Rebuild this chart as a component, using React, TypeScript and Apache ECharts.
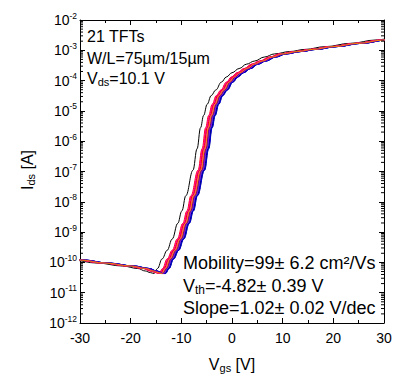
import React, { useEffect, useRef } from "react";
import * as echarts from "echarts";

// Gate voltage (V) of the reference transfer curve (bundle centre)
const V_GS = [-32, -30, -25, -20, -17, -15.5, -14.5, -13.8, -13.1, -12.2, -11.2, -10.2, -9.1, -8.3, -7.5, -6.1, -5.3, -4.6, -4.0, -3.3, -2.5, -1.6, -0.5, 0.5, 1.6, 3, 4.5, 6, 8, 10, 13, 16, 20, 25, 30, 32];
// Drain current (A) of that curve
const I_DS = [1.35e-10, 1.2e-10, 9.5e-11, 7.6e-11, 6.3e-11, 5.2e-11, 4.6e-11, 4.3e-11, 6.3e-11, 1.3e-10, 2.5e-10, 5.9e-10, 1.95e-9, 5e-9, 1.6e-8, 1.1e-7, 5.6e-7, 2.8e-6, 7.1e-6, 1.66e-5, 3.2e-5, 4.9e-5, 8.9e-5, 1.32e-4, 1.82e-4, 2.5e-4, 3.5e-4, 4.4e-4, 6e-4, 7.6e-4, 9.1e-4, 1.07e-3, 1.32e-3, 1.7e-3, 2.19e-3, 2.4e-3];
// Threshold shift (V) of each of the 21 TFTs relative to the curve above
const VTH_SHIFT = [-1.6, -0.6, 0.6, -0.4, 0.1, 0.7, 0.3, 0.2, -0.2, 0.4, 0.5, 0.0, -0.5, -0.3, 0.65, -0.1, 0.25, 0.55, 0.35, 0.15, -0.05];
const COLORS = ["#000000", "#FF0000", "#0000FF", "#FF00FF", "#808000", "#000080", "#8000FF", "#800080", "#800000", "#008080", "#0060FF", "#FF8000", "#FF0080", "#FF0000", "#0000FF", "#FF00FF", "#808000", "#000080", "#8000FF", "#800080", "#FF8000"];

const X_TICKS = [-30, -20, -10, 0, 10, 20, 30];
const Y_MIN = 1e-12;
const Y_MAX = 1e-2;

const FONT = 'Arial, "Liberation Sans", sans-serif';

export default function App() {
  const ref = useRef<HTMLDivElement>(null);
  useEffect(() => {
    if (!ref.current) return;
    const chart = echarts.init(ref.current, null, { renderer: "svg" });

    const series: any[] = VTH_SHIFT.map((s, k) => ({
      type: "line",
      name: "TFT " + (k + 1),
      data: V_GS.map((v, i) => [v + s, I_DS[i]]),
      showSymbol: false,
      symbol: "none",
      smooth: 0.4,
      smoothMonotone: "x",
      clip: true,
      lineStyle: { color: COLORS[k], width: 1 },
      z: 3,
    }));

    // log minor ticks 2..9 in each decade
    const minor: number[][] = [];
    for (let e = -12; e < -2; e++) {
      for (let m = 2; m <= 9; m++) minor.push([-30, m * Math.pow(10, e)]);
    }
    series.push({
      type: "custom",
      data: minor,
      silent: true,
      z: 5,
      clip: false,
      renderItem: (params: any, api: any) => {
        const v = api.value(1);
        const p = api.coord([-30, v]);
        const q = api.coord([30, v]);
        return {
          type: "group",
          children: [
            { type: "line", shape: { x1: p[0], y1: p[1], x2: p[0] + 3, y2: p[1] }, style: { stroke: "#000", lineWidth: 1 } },
            { type: "line", shape: { x1: q[0] - 3, y1: q[1], x2: q[0], y2: q[1] }, style: { stroke: "#000", lineWidth: 1 } },
          ],
        };
      },
    });

    const axisCommon = {
      axisLine: { show: true, onZero: false, lineStyle: { color: "#000", width: 1 } },
      splitLine: { show: false },
    };

    const text = (x: number, y: number, t: string, size: number, rich: any, extra: any = {}) => ({
      type: "text",
      x,
      y,
      ...extra,
      style: { text: t, fontSize: size, fontFamily: FONT, fill: "#000", verticalAlign: "middle", rich },
    });

    const richTop = {
      m: { fontSize: 16, fontFamily: FONT, lineHeight: 18 },
      sub: { fontSize: 11, fontFamily: FONT, lineHeight: 11, verticalAlign: "bottom" },
    };
    const richBot = {
      m: { fontSize: 18, fontFamily: FONT, lineHeight: 20 },
      sub: { fontSize: 12, fontFamily: FONT, lineHeight: 12, verticalAlign: "bottom" },
    };

    chart.setOption({
      animation: false,
      backgroundColor: "#fff",
      grid: { left: 80, top: 20, width: 304, height: 303, containLabel: false, outerBoundsMode: "none" },
      xAxis: [
        {
          type: "value",
          min: -30,
          max: 30,
          interval: 10,
          position: "bottom",
          ...axisCommon,
          axisTick: { show: true, inside: true, length: 5, lineStyle: { color: "#000" } },
          minorTick: { show: true, splitNumber: 2, length: 3, lineStyle: { color: "#000" } },
          axisLabel: {
            show: true,
            color: "#000",
            fontSize: 14,
            fontFamily: FONT,
            margin: 8,
            formatter: (v: number) => (X_TICKS.includes(v) ? String(v) : ""),
          },
        },
        {
          type: "value",
          min: -30,
          max: 30,
          interval: 10,
          position: "top",
          ...axisCommon,
          axisTick: { show: true, inside: true, length: 5, lineStyle: { color: "#000" } },
          minorTick: { show: true, splitNumber: 2, length: 3, lineStyle: { color: "#000" } },
          axisLabel: { show: false },
        },
      ],
      yAxis: [
        {
          type: "log",
          logBase: 10,
          min: Y_MIN,
          max: Y_MAX,
          splitNumber: 10,
          position: "left",
          ...axisCommon,
          axisTick: { show: true, inside: true, length: 5, lineStyle: { color: "#000" } },
          minorTick: { show: false },
          axisLabel: {
            show: true,
            margin: 3,
            color: "#000",
            formatter: (v: number) => `{b|10}{s|${Math.round(Math.log10(v))}}`,
            rich: {
              b: { fontSize: 14, fontFamily: FONT, color: "#000", lineHeight: 18 },
              s: { fontSize: 8.5, fontFamily: FONT, color: "#000", lineHeight: 9, verticalAlign: "top" },
            },
          },
        },
        {
          type: "log",
          logBase: 10,
          min: Y_MIN,
          max: Y_MAX,
          splitNumber: 10,
          position: "right",
          ...axisCommon,
          axisTick: { show: true, inside: true, length: 5, lineStyle: { color: "#000" } },
          minorTick: { show: false },
          axisLabel: { show: false },
        },
      ],
      series,
      graphic: [
        text(87, 36, "{m|21 TFTs}", 16, richTop),
        text(87, 58, "{m|W/L=75µm/15µm}", 16, richTop),
        text(87, 78, "{m|V}{sub|ds}{m|=10.1 V}", 16, richTop),
        text(183, 263, "{m|Mobility=99± 6.2 cm²/Vs}", 18, richBot),
        text(183, 286, "{m|V}{sub|th}{m|=-4.82± 0.39 V}", 18, richBot),
        text(183, 308, "{m|Slope=1.02± 0.02 V/dec}", 18, richBot),
        {
          type: "text",
          x: 27,
          y: 170,
          rotation: Math.PI / 2,
          style: {
            text: "{m|I}{sub|ds}{m| [A]}",
            align: "center",
            verticalAlign: "middle",
            fill: "#000",
            rich: richTop,
          },
        },
        {
          type: "text",
          x: 232,
          y: 364,
          style: {
            text: "{m|V}{sub|gs}{m| [V]}",
            align: "center",
            verticalAlign: "middle",
            fill: "#000",
            rich: richTop,
          },
        },
      ],
    });
    return () => chart.dispose();
  }, []);

  return <div ref={ref} style={{ position: "fixed", left: 0, top: 0, width: 397, height: 376, background: "#fff" }} />;
}
